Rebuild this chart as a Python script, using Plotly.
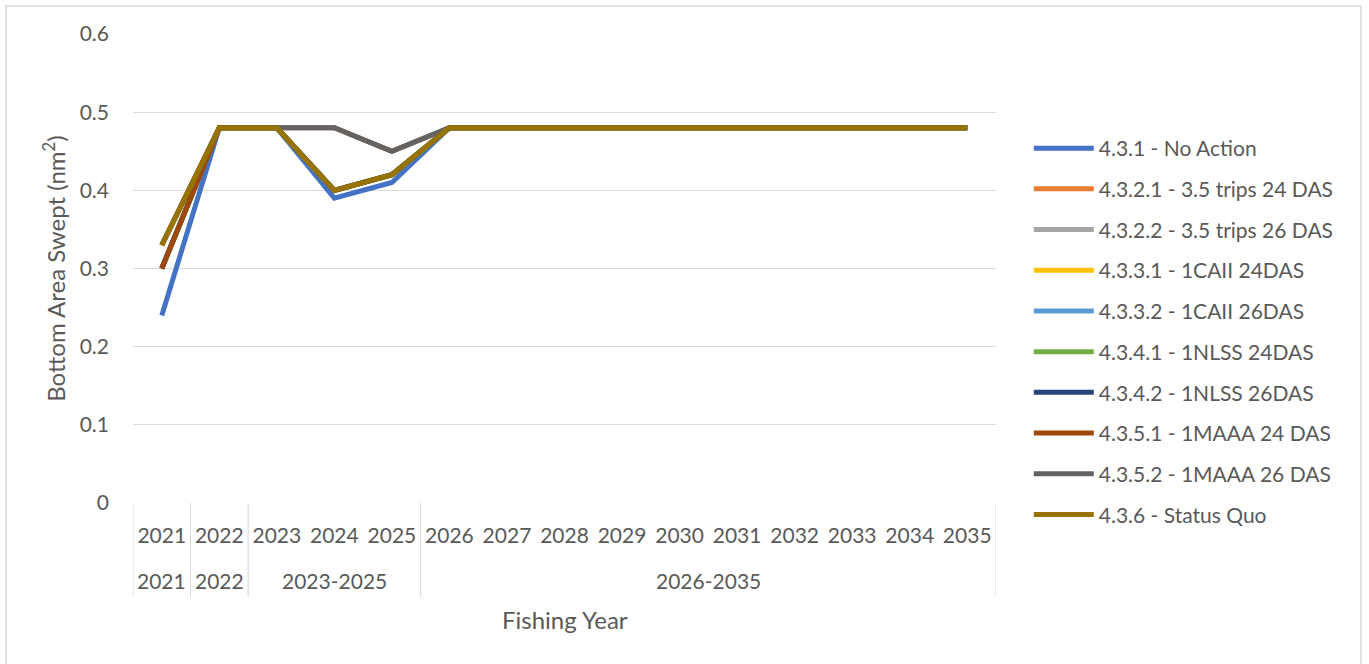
import plotly.graph_objects as go

years = [str(y) for y in range(2021, 2036)]
groups = ["2021", "2022", "2023-2025", "2023-2025", "2023-2025"] + ["2026-2035"] * 10

tail = [0.48] * 10
series_names = [
    "4.3.1 - No Action",
    "4.3.2.1 - 3.5 trips 24 DAS",
    "4.3.2.2 - 3.5 trips 26 DAS",
    "4.3.3.1 - 1CAII 24DAS",
    "4.3.3.2 - 1CAII 26DAS",
    "4.3.4.1 - 1NLSS 24DAS",
    "4.3.4.2 - 1NLSS 26DAS",
    "4.3.5.1 - 1MAAA 24 DAS",
    "4.3.5.2 - 1MAAA 26 DAS",
    "4.3.6 - Status Quo",
]
no_action = [0.24, 0.48, 0.48, 0.39, 0.41] + tail
trips_24 = [0.33, 0.48, 0.48, 0.40, 0.42] + tail
trips_26 = [0.33, 0.48, 0.48, 0.40, 0.42] + tail
caii_24 = [0.30, 0.48, 0.48, 0.40, 0.42] + tail
caii_26 = [0.30, 0.48, 0.48, 0.40, 0.42] + tail
nlss_24 = [0.30, 0.48, 0.48, 0.40, 0.42] + tail
nlss_26 = [0.30, 0.48, 0.48, 0.40, 0.42] + tail
maaa_24 = [0.30, 0.48, 0.48, 0.48, 0.45] + tail
maaa_26 = [0.33, 0.48, 0.48, 0.48, 0.45] + tail
status_quo = [0.33, 0.48, 0.48, 0.40, 0.42] + tail
series_values = [no_action, trips_24, trips_26, caii_24, caii_26,
                 nlss_24, nlss_26, maaa_24, maaa_26, status_quo]
colors = ["#4472C4", "#ED7D31", "#A5A5A5", "#FFC000", "#5B9BD5",
          "#70AD47", "#264478", "#9E480E", "#636363", "#997300"]
y_ticks = [0, 0.1, 0.2, 0.3, 0.4, 0.5, 0.6]
y_ticktext = ["0", "0.1", "0.2", "0.3", "0.4", "0.5", "0.6"]

FONT = "Lato"
TXT = "#595959"
GRID = "#D9D9D9"
FS = 21

fig = go.Figure()
for i, (name, vals, col) in enumerate(zip(series_names, series_values, colors)):
    fig.add_trace(go.Scatter(
        x=years, y=vals, name=name, mode="lines",
        line=dict(color=col, width=5), legendgroup=f"g{i}",
    ))

L, R, T, B = 133, 373, 34, 161
W, H = 1369 - L - R, 664 - T - B
px_y = lambda py: (664 - B - py) / H  # pixel row -> paper y

fig.update_layout(
    width=1369, height=664,
    margin=dict(l=L, r=R, t=T, b=B),
    paper_bgcolor="white", plot_bgcolor="white",
    font=dict(family=FONT, size=FS, color=TXT),
    showlegend=True,
    legend=dict(
        x=1.038, xanchor="left", y=px_y(128), yanchor="top",
        traceorder="grouped", tracegroupgap=10.4,
        font=dict(family=FONT, size=FS, color=TXT),
        itemwidth=60, bgcolor="rgba(0,0,0,0)",
    ),
    xaxis=dict(
        type="category", range=[-0.5, len(years) - 0.5],
        showgrid=False, showline=False, zeroline=False, ticks="",
        ticklabelstandoff=18,
        tickfont=dict(family=FONT, size=FS, color=TXT),
    ),
    yaxis=dict(
        range=[0, 0.6], tickvals=y_ticks, ticktext=y_ticktext,
        showgrid=True, gridcolor=GRID, gridwidth=1,
        zeroline=False, showline=False, ticks="", ticklabelstandoff=23,
        tickfont=dict(family=FONT, size=FS, color=TXT),
        title=dict(text="Bottom Area Swept (nm<sup>2</sup>)",
                   font=dict(family=FONT, size=24, color=TXT), standoff=7),
    ),
)

# group labels and dividers of the two-level category axis
bounds = [-0.5]
start = 0
for i in range(1, len(groups) + 1):
    if i == len(groups) or groups[i] != groups[start]:
        fig.add_annotation(x=(start + i - 1) / 2, y=px_y(580), xref="x", yref="paper",
                           text=groups[start], showarrow=False, yanchor="middle",
                           font=dict(family=FONT, size=FS, color=TXT))
        bounds.append(i - 0.5)
        start = i
for b in bounds:
    fig.add_shape(type="line", xref="x", yref="paper", x0=b, x1=b,
                  y0=0, y1=px_y(597), line=dict(color=GRID, width=1))

fig.add_annotation(x=0.5, y=px_y(619), xref="paper", yref="paper", text="Fishing Year",
                   showarrow=False, yanchor="middle",
                   font=dict(family=FONT, size=24, color=TXT))

fig.add_shape(type="rect", xref="paper", yref="paper",
              x0=(6 - L) / W, x1=(1361 - L) / W,
              y0=-0.4, y1=px_y(6),
              line=dict(color=GRID, width=1.5), fillcolor="rgba(0,0,0,0)", layer="below")

fig.write_html("out.html")
